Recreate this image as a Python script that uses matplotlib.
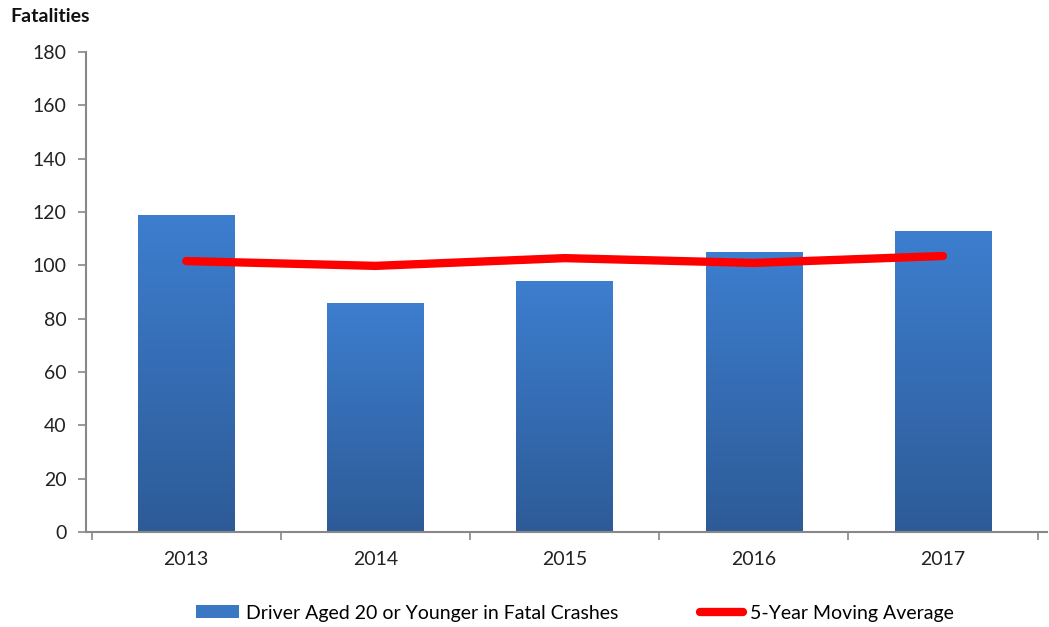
import matplotlib
matplotlib.use("Agg")
import matplotlib.pyplot as plt
import numpy as np
from matplotlib.patches import Patch
from matplotlib.lines import Line2D
from matplotlib.colors import LinearSegmentedColormap

years = ["2013", "2014", "2015", "2016", "2017"]
drivers_20_younger = [119, 86, 94, 105, 113]
moving_avg = [101.6, 99.8, 102.7, 100.9, 103.5]
yticks = [0, 20, 40, 60, 80, 100, 120, 140, 160, 180]

plt.rcParams['font.family'] = ['Lato', 'DejaVu Sans']

fig = plt.figure(figsize=(10.49, 6.27), dpi=100)
ax = fig.add_axes([86/1049, 95/627, (1047-86)/1049, (532-52)/627])

x = np.arange(len(years))
bars = ax.bar(x, drivers_20_younger, width=0.51, color="#3A78C4", zorder=2)

cmap = LinearSegmentedColormap.from_list("g", ["#2D5B97", "#3D7ECF"])
grad = np.linspace(0, 1, 256).reshape(-1, 1)
for b in bars:
    bx, by = b.get_x(), b.get_y()
    w, h = b.get_width(), b.get_height()
    im = ax.imshow(grad, cmap=cmap, aspect='auto', origin='lower',
                   extent=[bx, bx + w, by, by + h], zorder=2.5)
    im.set_clip_path(b)

ax.plot(x, moving_avg, color="#FF0000", lw=6, solid_capstyle='round',
        solid_joinstyle='round', zorder=3)

ax.set_xlim(-0.53, 4.55)
ax.set_ylim(0, 180)
ax.set_yticks(yticks)
ax.set_yticklabels([str(v) for v in yticks])
ax.set_xticks(x)
ax.set_xticklabels(years)
ax.set_xticks(np.arange(-0.5, 5, 1.0), minor=True)
ax.tick_params(axis='x', which='major', length=0, pad=14, labelsize=14, colors='#222222')
ax.tick_params(axis='x', which='minor', length=6, color='#888888', width=1.2)
ax.tick_params(axis='y', length=6, color='#888888', width=1.2, pad=8, labelsize=14, labelcolor='#222222')

for s in ['top', 'right']:
    ax.spines[s].set_visible(False)
for s in ['left', 'bottom']:
    ax.spines[s].set_color('#888888')
    ax.spines[s].set_linewidth(1.5)

fig.text(10/1049, 1 - 17/627, "Fatalities", fontsize=14, fontweight='bold',
         va='center', ha='left', color='#111111')

handles = [Patch(facecolor="#3A78C4", edgecolor='none'),
           Line2D([0], [0], color="#FF0000", lw=6, solid_capstyle='round')]
labels = ["Driver Aged 20 or Younger in Fatal Crashes", "5-Year Moving Average"]
fig.legend(handles, labels, loc='center', bbox_to_anchor=(575/1049, 1 - 613/627),
           ncol=2, frameon=False, fontsize=14, handlelength=2.2, handletextpad=0.35,
           columnspacing=4.2, handleheight=0.65)

fig.savefig("out.png", dpi=100)
